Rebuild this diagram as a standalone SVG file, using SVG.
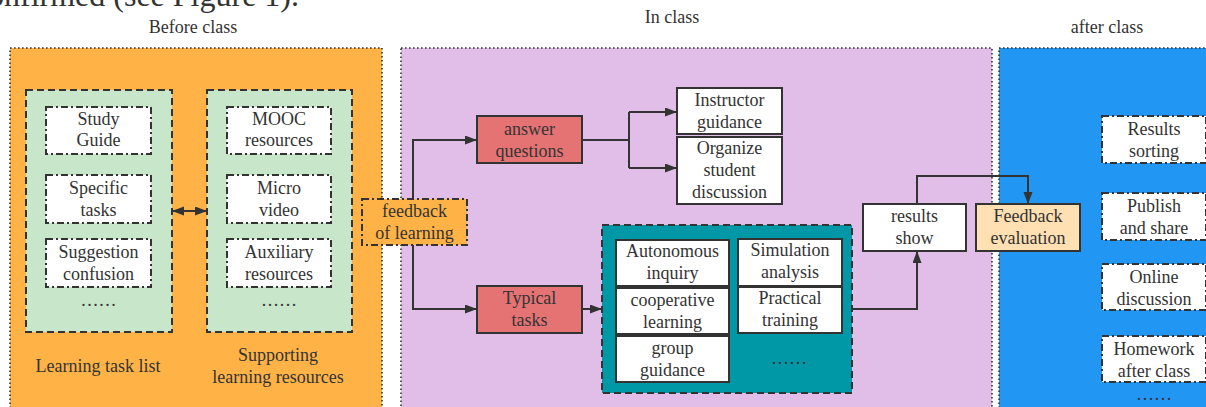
<svg xmlns="http://www.w3.org/2000/svg" width="1206" height="407" viewBox="0 0 1206 407">
<defs>
<marker id="ah" markerUnits="userSpaceOnUse" markerWidth="13" markerHeight="10" refX="12" refY="4.5" orient="auto-start-reverse"><path d="M0,0 L12,4.5 L0,9 z" fill="#333"/></marker>
<style>
text{font-family:"Liberation Serif","Times New Roman",serif;font-size:18px;fill:#333;text-anchor:middle}
.panel{stroke:#333;stroke-width:1.6;stroke-dasharray:1.6 2.4}
.green{fill:#C8E6C9;stroke:#333;stroke-width:2;stroke-dasharray:7 4}
.dd{fill:#fff;stroke:#333;stroke-width:2;stroke-dasharray:7 3 2 3}
.solid{stroke:#333;stroke-width:2}
.con{fill:none;stroke:#333;stroke-width:2;marker-end:url(#ah)}
.ln{fill:none;stroke:#333;stroke-width:2}
</style>
</defs>
<text x="299" y="6" style="font-size:32px;text-anchor:end">confirmed (see Figure 1).</text>

<g id="before-class">
<rect class="panel" x="10" y="48" width="372" height="380" fill="#FFB347"/>
<text x="193" y="33">Before class</text>
</g>
<g id="in-class">
<rect class="panel" x="401" y="48" width="591" height="380" fill="#E1BEE7"/>
<text x="672" y="23">In class</text>
</g>
<g id="after-class">
<rect class="panel" x="999" y="48" width="230" height="380" fill="#2196F3"/>
<text x="1107" y="33">after class</text>
</g>

<g id="learning-task-list">
<rect class="green" x="26" y="90" width="146" height="242"/>
<text x="98" y="372">Learning task list</text>
</g>
<g id="study-guide"><rect class="dd" x="46" y="107" width="105" height="47"/><text x="98.5" y="125">Study</text><text x="98.5" y="146">Guide</text></g>
<g id="specific-tasks"><rect class="dd" x="46" y="175" width="105" height="48"/><text x="98.5" y="194">Specific</text><text x="98.5" y="216">tasks</text></g>
<g id="suggestion-confusion"><rect class="dd" x="46" y="239" width="105" height="48"/><text x="98.5" y="258">Suggestion</text><text x="98.5" y="280">confusion</text></g>
<text x="98.5" y="306">……</text>

<g id="supporting-resources">
<rect class="green" x="207" y="90" width="145" height="242"/>
<text x="278" y="361">Supporting</text>
<text x="278" y="383">learning resources</text>
</g>
<g id="mooc"><rect class="dd" x="227" y="107" width="104" height="47"/><text x="279" y="125">MOOC</text><text x="279" y="146">resources</text></g>
<g id="micro-video"><rect class="dd" x="227" y="175" width="104" height="48"/><text x="279" y="194">Micro</text><text x="279" y="216">video</text></g>
<g id="auxiliary"><rect class="dd" x="227" y="239" width="104" height="48"/><text x="279" y="258">Auxiliary</text><text x="279" y="280">resources</text></g>
<text x="279" y="306">……</text>

<g id="feedback-learning"><rect class="dd" x="362" y="199" width="105" height="46" style="fill:#FFB347"/><text x="414.5" y="217">feedback</text><text x="414.5" y="239">of learning</text></g>

<g id="answer-questions"><rect class="solid" x="477" y="116" width="105" height="47" fill="#E57373"/><text x="529.5" y="135">answer</text><text x="529.5" y="157">questions</text></g>
<g id="instructor-guidance"><rect class="solid" x="677" y="88" width="105" height="46" fill="#fff"/><text x="729.5" y="106">Instructor</text><text x="729.5" y="128">guidance</text></g>
<g id="organize-discussion"><rect class="solid" x="677" y="137" width="105" height="67" fill="#fff"/><text x="729.5" y="154">Organize</text><text x="729.5" y="176">student</text><text x="729.5" y="198">discussion</text></g>
<g id="typical-tasks"><rect class="solid" x="477" y="286" width="105" height="47" fill="#E57373"/><text x="529.5" y="304">Typical</text><text x="529.5" y="326">tasks</text></g>

<g id="methods">
<rect x="602" y="225" width="250" height="168" fill="#0097A7" stroke="#333" stroke-width="2" stroke-dasharray="7 4"/>
<g id="autonomous"><rect class="solid" x="616" y="240" width="113" height="46" fill="#fff"/><text x="672.5" y="257">Autonomous</text><text x="672.5" y="279">inquiry</text></g>
<g id="cooperative"><rect class="solid" x="616" y="288" width="113" height="46" fill="#fff"/><text x="672.5" y="306">cooperative</text><text x="672.5" y="328">learning</text></g>
<g id="group-guidance"><rect class="solid" x="616" y="336" width="113" height="46" fill="#fff"/><text x="672.5" y="354">group</text><text x="672.5" y="376">guidance</text></g>
<g id="simulation"><rect class="solid" x="738" y="239" width="104" height="47" fill="#fff"/><text x="790" y="256">Simulation</text><text x="790" y="278">analysis</text></g>
<g id="practical"><rect class="solid" x="738" y="287" width="104" height="46" fill="#fff"/><text x="790" y="304">Practical</text><text x="790" y="326">training</text></g>
<text x="789" y="364">……</text>
</g>

<g id="results-show"><rect class="solid" x="863" y="204" width="103" height="47" fill="#fff"/><text x="914.5" y="222">results</text><text x="914.5" y="244">show</text></g>
<g id="feedback-evaluation"><rect class="solid" x="976" y="204" width="104" height="47" fill="#FFE0B2"/><text x="1028" y="222">Feedback</text><text x="1028" y="244">evaluation</text></g>

<g id="results-sorting"><rect class="dd" x="1102" y="116" width="104" height="47"/><text x="1154" y="135">Results</text><text x="1154" y="157">sorting</text></g>
<g id="publish-share"><rect class="dd" x="1102" y="193" width="104" height="47"/><text x="1154" y="212">Publish</text><text x="1154" y="234">and share</text></g>
<g id="online-discussion"><rect class="dd" x="1102" y="264" width="104" height="46"/><text x="1154" y="283">Online</text><text x="1154" y="305">discussion</text></g>
<g id="homework"><rect class="dd" x="1102" y="336" width="104" height="46"/><text x="1154" y="355">Homework</text><text x="1154" y="377">after class</text></g>
<text x="1154" y="400">……</text>

<g id="connectors">
<path class="con" d="M172,211 H207" style="marker-start:url(#ah)"/>
<path class="con" d="M413,199 V140 H477"/>
<path class="ln" d="M582,140 H629 M629,112 V168"/>
<path class="con" d="M629,112 H677"/>
<path class="con" d="M629,168 H677"/>
<path class="con" d="M413,245 V309 H477"/>
<path class="con" d="M582,309 H602"/>
<path class="con" d="M852,309 H917 V251"/>
<path class="con" d="M917,204 V176 H1028 V204"/>
</g>
</svg>
